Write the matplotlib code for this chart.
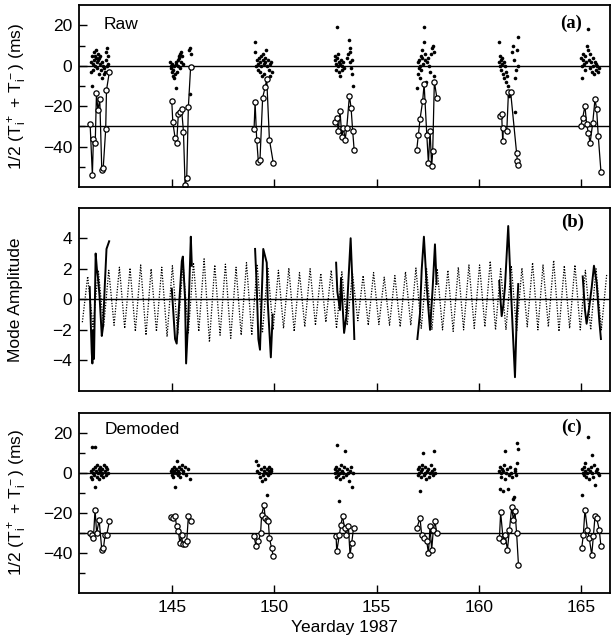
import matplotlib
matplotlib.use('Agg')
import matplotlib.pyplot as plt
from matplotlib.ticker import MultipleLocator, FixedLocator

plt.rcParams['font.family'] = ['Liberation Sans', 'DejaVu Sans']
plt.rcParams['mathtext.default'] = 'regular'

#===============================================================================
# Data
#-------------------------------------------------------------------------------
# (a) raw travel times: scattered dots (one series) and circles (other series)
raw_dot_t = [
    [141.02, 141.05, 141.08, 141.10, 141.12, 141.15, 141.18, 141.20, 141.22, 141.25, 141.27, 141.30, 141.32, 141.35, 141.38, 141.40, 141.43, 141.45, 141.48, 141.50, 141.53, 141.56, 141.60, 141.63, 141.66, 141.70, 141.74, 141.78, 141.80, 141.82, 141.84, 141.86, 141.88],
    [144.92, 144.95, 144.97, 145.00, 145.02, 145.05, 145.07, 145.10, 145.12, 145.15, 145.18, 145.20, 145.22, 145.25, 145.28, 145.30, 145.33, 145.36, 145.38, 145.40, 145.43, 145.46, 145.50, 145.55, 145.85, 145.88, 145.90, 145.93],
    [149.05, 149.08, 149.12, 149.15, 149.18, 149.22, 149.25, 149.28, 149.30, 149.33, 149.36, 149.40, 149.43, 149.46, 149.48, 149.50, 149.53, 149.56, 149.60, 149.63, 149.66, 149.70, 149.73, 149.77, 149.80, 149.84, 149.88],
    [152.95, 152.98, 153.00, 153.02, 153.05, 153.08, 153.10, 153.12, 153.15, 153.18, 153.20, 153.23, 153.26, 153.30, 153.33, 153.36, 153.40, 153.55, 153.60, 153.64, 153.68, 153.70, 153.72, 153.75, 153.78, 153.82, 153.86],
    [156.98, 157.00, 157.03, 157.06, 157.08, 157.10, 157.13, 157.16, 157.18, 157.20, 157.23, 157.26, 157.29, 157.32, 157.35, 157.38, 157.42, 157.45, 157.50, 157.55, 157.60, 157.64, 157.70, 157.74, 157.78, 157.82],
    [160.98, 161.00, 161.03, 161.05, 161.08, 161.10, 161.13, 161.15, 161.18, 161.20, 161.23, 161.26, 161.30, 161.33, 161.36, 161.40, 161.45, 161.62, 161.66, 161.70, 161.74, 161.78, 161.82, 161.86, 161.90, 161.93],
    [165.00, 165.03, 165.05, 165.08, 165.10, 165.13, 165.16, 165.20, 165.24, 165.28, 165.32, 165.35, 165.38, 165.42, 165.45, 165.48, 165.52, 165.55, 165.58, 165.62, 165.66, 165.70, 165.74, 165.78, 165.82, 165.86],
]
raw_dot_v = [
    [2, -3, -10, 5, 1, -2, 7, 3, 5, 0, 4, 8, 2, -1, 6, 3, 4, -4, 1, 5, -2, 2, -6, 0, -4, -1, -3, 3, 7, 9, 0, 5, 1],
    [2, -1, 0, -3, 1, -5, -2, 0, -6, -4, 2, -11, 1, -3, 0, 3, 5, 4, -1, 6, 7, 2, 5, 1, 8, 9, -14, 6],
    [12, 7, 0, 3, -2, 1, 4, 2, -3, 5, 0, -5, 3, 6, 1, -4, 2, 4, 8, 0, -6, 3, -2, -5, 1, 2, -3],
    [3, 5, 1, -2, 19, 4, 0, 6, -3, 2, 1, -5, 3, -2, 0, 2, -1, 4, 6, 13, 2, 9, 7, -1, -4, 3, -10],
    [-11, -4, 2, -1, 3, -6, 0, 5, -2, 4, 8, 1, 19, 12, 6, 3, -8, 2, 4, 0, -3, 6, 9, 10, -5, 7],
    [12, 2, 5, 0, 3, -2, 4, 1, -4, 2, -6, 0, -8, -3, -5, -10, -15, 7, 10, 3, -23, -6, -2, 8, 0, 14],
    [4, 0, -6, 3, 6, 1, -2, 5, 2, 10, 8, 18, 3, -1, 6, 2, -3, 4, 0, -4, 2, -2, 1, 0, -3, -1],
]
raw_circ_t = [
    [141.00, 141.11, 141.16, 141.25, 141.31, 141.38, 141.47, 141.57, 141.64, 141.76, 141.80, 141.94],
    [144.99, 145.04, 145.15, 145.23, 145.31, 145.39, 145.47, 145.56, 145.64, 145.72, 145.80, 145.91],
    [149.01, 149.06, 149.14, 149.22, 149.30, 149.43, 149.55, 149.63, 149.76, 149.95],
    [152.97, 153.05, 153.13, 153.21, 153.30, 153.38, 153.46, 153.54, 153.67, 153.75, 153.83, 153.90],
    [156.96, 157.04, 157.12, 157.25, 157.32, 157.45, 157.53, 157.61, 157.69, 157.74, 157.82, 157.94],
    [161.03, 161.11, 161.16, 161.19, 161.36, 161.44, 161.55, 161.84, 161.88, 161.93],
    [164.97, 165.07, 165.18, 165.26, 165.35, 165.43, 165.56, 165.67, 165.75, 165.83, 165.96],
]
raw_circ_v = [
    [-29, -54, -36, -38, -13.5, -22, -16.5, -51.5, -50.5, -31.5, -12, -3],
    [-17.5, -28, -35.5, -38, -24, -23, -21.5, -32.5, -59, -55.5, -20.5, -0.7],
    [-31.5, -18, -36.5, -47.5, -46.5, -15.7, -10.7, -6.5, -36.5, -48],
    [-28, -25.7, -32.3, -22.3, -35, -30.7, -36.5, -30.7, -14.8, -20.7, -32.3, -41.5],
    [-41.5, -34, -26.5, -17.3, -9, -34, -48.2, -32.2, -49.8, -42.3, -7.8, -15.7],
    [-24.8, -24, -37.3, -30.7, -32.3, -13.2, -13.2, -43.2, -47.3, -49],
    [-29.8, -25.7, -19.8, -29, -33.2, -38.2, -28.2, -16.5, -21.5, -34.8, -52.3],
]

# (b) tidal mode prediction (dotted), extrema times / values
tide_t = [140.62, 140.88, 141.14, 141.40, 141.66, 141.91, 142.17, 142.43, 142.69, 142.95,
          143.21, 143.47, 143.73, 143.98, 144.24, 144.50, 144.76, 145.02, 145.28, 145.54,
          145.80, 146.05, 146.31, 146.57, 146.83, 147.09, 147.35, 147.61, 147.87, 148.13,
          148.38, 148.64, 148.90, 149.16, 149.42, 149.68, 149.94, 150.20, 150.45, 150.71,
          150.97, 151.23, 151.49, 151.75, 152.01, 152.27, 152.52, 152.78, 153.04, 153.30,
          153.56, 153.82, 154.08, 154.34, 154.59, 154.85, 155.11, 155.37, 155.63, 155.89,
          156.15, 156.41, 156.67, 156.92, 157.18, 157.44, 157.70, 157.96, 158.22, 158.48,
          158.74, 158.99, 159.25, 159.51, 159.77, 160.03, 160.29, 160.55, 160.81, 161.06,
          161.32, 161.58, 161.84, 162.10, 162.36, 162.62, 162.88, 163.13, 163.39, 163.65,
          163.91, 164.17, 164.43, 164.69, 164.95, 165.20, 165.46, 165.72, 165.98, 166.24]
tide_v = [-1.5, 1.5, -1.8, 1.9, -1.8, 1.9, -1.7, 2.1, -1.9, 2.05,
          -2.1, 2.25, -2.35, 2.0, -2.1, 2.1, -2.45, 2.2, -2.3, 2.3,
          -2.2, 2.4, -2.1, 2.65, -2.8, 2.25, -2.35, 2.3, -2.55, 2.1,
          -2.35, 2.4, -2.35, 2.3, -2.2, 2.1, -2.0, 1.9, -1.9, 2.05,
          -2.1, 1.75, -1.8, 2.0, -1.7, 1.7, -1.5, 1.9, -1.9, 1.8,
          -1.7, 1.7, -1.4, 1.55, -1.7, 1.75, -1.65, 1.45, -1.7, 1.55,
          -1.8, 1.8, -1.7, 2.05, -1.9, 2.0, -2.0, 2.0, -2.0, 1.9,
          -2.1, 2.1, -2.0, 2.25, -1.9, 2.25, -1.8, 2.5, -2.0, 2.0,
          -2.0, 2.2, -2.1, 2.05, -1.8, 2.4, -2.0, 2.25, -1.8, 2.55,
          -2.1, 2.2, -1.9, 2.25, -2.0, 1.9, -2.0, 2.0, -2.0, 1.6]

# (b) fitted mode amplitude per transmission burst (solid)
mode_t = [
    [140.98, 141.03, 141.08, 141.11, 141.15, 141.19, 141.27, 141.33, 141.40, 141.46, 141.57, 141.63, 141.72, 141.80, 141.93],
    [144.99, 145.15, 145.23, 145.48, 145.53, 145.64, 145.69, 145.80, 145.92, 145.97],
    [149.06, 149.14, 149.22, 149.30, 149.46, 149.63, 149.68, 149.83, 149.92],
    [153.02, 153.08, 153.21, 153.26, 153.34, 153.41, 153.54, 153.62, 153.73, 153.78, 153.86, 153.91],
    [156.99, 157.12, 157.20, 157.31, 157.45, 157.61, 157.74, 157.85, 157.93],
    [160.99, 161.11, 161.19, 161.27, 161.43, 161.52, 161.65, 161.76, 161.84, 161.92],
    [165.07, 165.18, 165.26, 165.39, 165.51, 165.62, 165.75, 165.88, 165.96],
]
mode_v = [
    [0.8, -1.5, -3.5, -4.2, -2.0, -3.9, 3.0, 2.0, 1.2, 0.2, -2.4, -1.8, 1.0, 3.3, 3.8],
    [0.7, -2.6, -2.9, 2.5, 2.8, 0.0, -4.2, -1.1, 4.1, 2.2],
    [3.3, 0.9, -2.6, -3.3, 3.3, 2.4, -0.2, -3.8, -1.0],
    [2.4, 0.5, -0.7, 1.4, -0.5, -2.2, -0.9, 1.2, 4.0, 2.3, -0.5, -2.6],
    [-2.6, -0.9, 1.9, 4.1, 0.8, -2.0, 0.8, 3.6, 1.0],
    [1.2, -1.1, -0.4, 0.8, 4.8, 1.9, -2.0, -5.1, -1.4, 1.0],
    [1.5, -0.7, -1.6, -0.5, 0.8, 2.2, 1.1, -1.4, -2.6],
]

# (c) demoded travel times
dem_dot_t = [
    [141.03, 141.06, 141.08, 141.10, 141.13, 141.16, 141.19, 141.22, 141.24, 141.26, 141.29, 141.32, 141.35, 141.38, 141.41, 141.44, 141.47, 141.50, 141.53, 141.56, 141.60, 141.64, 141.68, 141.72, 141.76, 141.80, 141.84, 141.88],
    [144.95, 144.98, 145.00, 145.03, 145.06, 145.09, 145.12, 145.15, 145.18, 145.21, 145.24, 145.27, 145.30, 145.33, 145.36, 145.40, 145.44, 145.48, 145.52, 145.56, 145.62, 145.70, 145.80, 145.88],
    [149.10, 149.15, 149.20, 149.25, 149.30, 149.35, 149.40, 149.44, 149.48, 149.52, 149.55, 149.58, 149.62, 149.65, 149.68, 149.72, 149.75, 149.78, 149.82, 149.86],
    [152.95, 152.98, 153.00, 153.03, 153.05, 153.08, 153.11, 153.14, 153.17, 153.20, 153.23, 153.26, 153.30, 153.34, 153.38, 153.42, 153.46, 153.50, 153.55, 153.60, 153.65, 153.70, 153.75, 153.80, 153.86],
    [157.00, 157.03, 157.06, 157.09, 157.12, 157.15, 157.18, 157.21, 157.24, 157.27, 157.30, 157.34, 157.38, 157.42, 157.46, 157.50, 157.55, 157.60, 157.65, 157.70, 157.75, 157.78, 157.82, 157.86],
    [160.98, 161.01, 161.04, 161.07, 161.10, 161.13, 161.16, 161.19, 161.22, 161.25, 161.28, 161.32, 161.36, 161.40, 161.45, 161.50, 161.55, 161.60, 161.65, 161.70, 161.74, 161.78, 161.82, 161.84, 161.88, 161.93],
    [165.02, 165.05, 165.08, 165.11, 165.14, 165.17, 165.20, 165.24, 165.28, 165.32, 165.35, 165.38, 165.42, 165.46, 165.50, 165.54, 165.58, 165.62, 165.66, 165.70, 165.75, 165.80, 165.85],
]
dem_dot_v = [
    [-2, 1, 13, -3, 2, 0, -1, 3, 13, -7, 1, -2, 4, 0, 2, -3, 1, 3, -1, 2, 0, -2, 4, 1, -1, 3, 2, 0],
    [1, -1, 2, 0, -2, 3, 1, -7, 0, 2, 6, -1, 1, 3, 0, -2, 2, 4, 1, 0, 3, -1, 2, -3],
    [6, 1, 4, 0, -2, 2, -4, -1, 1, 3, -3, 0, -11, 2, -1, 1, 3, 0, 2, 1],
    [0, 2, -2, 3, 14, 1, -1, -14, 2, 0, -3, 4, 1, -2, 0, 3, 11, -1, 2, 0, -4, 1, 3, -7, 0],
    [2, -1, 3, 0, -9, -2, 1, 4, 2, 10, -1, 0, 3, -3, 1, 2, -2, 0, 4, 1, -1, 11, 2, 0],
    [1, -8, 3, 0, -2, 2, -9, 1, 4, -3, 11, 0, 2, -8, -1, 3, 0, -2, -13, -12, 2, 1, -1, 15, 5, 12],
    [-11, 2, 0, 3, -1, 1, 5, -2, 0, 2, 18, -3, 1, 3, 9, 0, -2, 4, -6, 1, 2, 0, -1],
]
dem_circ_t = [
    [141.00, 141.08, 141.16, 141.24, 141.32, 141.44, 141.57, 141.65, 141.73, 141.81, 141.94],
    [144.94, 145.07, 145.15, 145.23, 145.31, 145.39, 145.47, 145.52, 145.64, 145.72, 145.80, 145.91],
    [149.01, 149.11, 149.22, 149.33, 149.38, 149.50, 149.55, 149.63, 149.71, 149.76, 149.87, 149.95],
    [153.02, 153.05, 153.18, 153.25, 153.34, 153.43, 153.51, 153.62, 153.70, 153.78, 153.87],
    [156.96, 157.12, 157.20, 157.32, 157.45, 157.53, 157.61, 157.69, 157.77, 157.85, 157.94],
    [161.00, 161.06, 161.19, 161.28, 161.39, 161.49, 161.60, 161.68, 161.76, 161.84, 161.93],
    [165.02, 165.10, 165.18, 165.30, 165.39, 165.51, 165.59, 165.67, 165.75, 165.88, 165.96],
]
dem_circ_v = [
    [-30.2, -31, -32.7, -18.5, -30.2, -23.5, -38.5, -37.7, -31, -31, -24.3],
    [-22.2, -22.7, -21.8, -26.8, -29.3, -35.2, -31, -35.7, -35.7, -34.3, -21.8, -24.3],
    [-31.8, -36.8, -34.3, -30.2, -21, -16, -22.7, -23.5, -24.3, -32.7, -37.7, -41.8],
    [-31.8, -39.3, -31, -26, -21.8, -27.7, -31, -26.8, -41, -35.2, -27.7],
    [-27.7, -22.7, -31, -32.7, -34.3, -40.2, -26.8, -38.5, -28.5, -24.3, -30.2],
    [-32.7, -19.8, -34.3, -31, -38.5, -28.5, -17.2, -23.5, -19.3, -30.2, -46],
    [-37.7, -31, -18.5, -28.5, -32.7, -41, -31.8, -21.8, -22.7, -28.5, -36.8],
]

day_ticks = [145, 150, 155, 160, 165]
ylabel_tt = r'1/2 (T$_i^+$ + T$_i^-$) (ms)'

#===============================================================================
# Figure layout
#-------------------------------------------------------------------------------
fig = plt.figure(figsize=(6.13, 6.43), dpi=100)
ax_a = fig.add_axes([0.129, 0.709, 0.866, 0.283])
ax_b = fig.add_axes([0.129, 0.392, 0.866, 0.285])
ax_c = fig.add_axes([0.129, 0.078, 0.866, 0.280])


def style_axis(ax):
    ax.set_xlim(140.46, 166.4)
    ax.xaxis.set_major_locator(FixedLocator(day_ticks))
    ax.tick_params(direction='in', length=6, width=1, labelsize=12.5, pad=5)
    ax.tick_params(which='minor', direction='in', length=4, width=1)
    for s in ax.spines.values():
        s.set_linewidth(1.3)


def travel_panel(ax, dot_t, dot_v, circ_t, circ_v):
    style_axis(ax)
    ax.set_ylim(-60, 30)
    ax.yaxis.set_major_locator(FixedLocator([-40, -20, 0, 20]))
    ax.yaxis.set_minor_locator(FixedLocator([-50, -30, -10, 10]))
    ax.axhline(0, color='black', lw=1)
    ax.axhline(-30, color='black', lw=1)
    for t, v in zip(dot_t, dot_v):
        ax.plot(t, v, 'o', color='black', ms=2.6, mew=0)
    for t, v in zip(circ_t, circ_v):
        ax.plot(t, v, '-o', color='black', lw=0.9, ms=3.8, mew=0.9,
                mfc='white', mec='black')
    ax.set_ylabel(ylabel_tt, fontsize=12.5)
    ax.yaxis.set_label_coords(-0.095, 0.5)


#===============================================================================
# (a) Raw
#-------------------------------------------------------------------------------
travel_panel(ax_a, raw_dot_t, raw_dot_v, raw_circ_t, raw_circ_v)
ax_a.set_xticklabels([])
ax_a.text(0.047, 0.895, 'Raw', transform=ax_a.transAxes, fontsize=12.5, va='center')
ax_a.text(0.948, 0.90, '(a)', transform=ax_a.transAxes, fontsize=13.5, ha='right',
          va='center', family='Liberation Serif', weight='bold')

#===============================================================================
# (b) Mode amplitude
#-------------------------------------------------------------------------------
style_axis(ax_b)
ax_b.set_ylim(-6, 6)
ax_b.yaxis.set_major_locator(MultipleLocator(2))
ax_b.set_yticks([-4, -2, 0, 2, 4])
ax_b.axhline(0, color='black', lw=1)
ax_b.plot(tide_t, tide_v, color='black', lw=0.9, ls=(0, (1, 1.2)))
for t, v in zip(mode_t, mode_v):
    ax_b.plot(t, v, color='black', lw=1.4)
ax_b.set_xticklabels([])
ax_b.set_ylabel('Mode Amplitude', fontsize=12.5)
ax_b.yaxis.set_label_coords(-0.105, 0.5)
ax_b.text(0.952, 0.918, '(b)', transform=ax_b.transAxes, fontsize=13.5, ha='right',
          va='center', family='Liberation Serif', weight='bold')

#===============================================================================
# (c) Demoded
#-------------------------------------------------------------------------------
travel_panel(ax_c, dem_dot_t, dem_dot_v, dem_circ_t, dem_circ_v)
ax_c.set_xlabel('Yearday 1987', fontsize=12.5, labelpad=4)
ax_c.text(0.049, 0.905, 'Demoded', transform=ax_c.transAxes, fontsize=12.5, va='center')
ax_c.text(0.948, 0.92, '(c)', transform=ax_c.transAxes, fontsize=13.5, ha='right',
          va='center', family='Liberation Serif', weight='bold')

fig.savefig('out.png', dpi=100)
